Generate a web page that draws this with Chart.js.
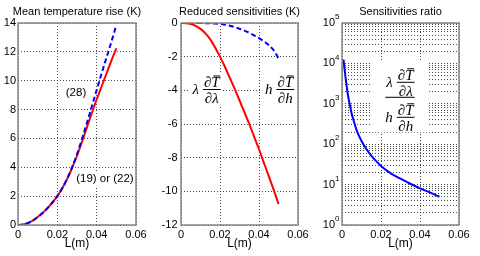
<!DOCTYPE html>
<html><head><meta charset="utf-8">
<script src="https://cdn.jsdelivr.net/npm/chart.js@4.4.1/dist/chart.umd.min.js"></script>
<style>
html,body{margin:0;padding:0;background:#fff}
#wrap{position:relative;width:480px;height:256px;overflow:hidden;background:#fff}
canvas{position:absolute;top:0}
</style></head><body>
<div id="wrap">
<canvas id="c1" width="160" height="256" style="left:0px"></canvas>
<canvas id="c2" width="160" height="256" style="left:160px"></canvas>
<canvas id="c3" width="160" height="256" style="left:320px"></canvas>
</div>
<script>
// ---------- data ----------
const lengths = [0,0.0025,0.005,0.0075,0.01,0.0125,0.015,0.0175,0.02,0.0225,0.025,0.0275,0.03,0.0325,0.035,0.0375,0.04,0.0425,0.045,0.0475,0.05];
const meanRiseEq28 = [0,0.03,0.13,0.3,0.55,0.83,1.17,1.56,2.0,2.55,3.2,4.0,4.9,5.95,7.05,8.2,9.35,10.5,11.6,12.7,13.85];
const meanRiseEq19 = [0,0.03,0.13,0.3,0.55,0.83,1.17,1.56,2.0,2.55,3.2,3.95,4.8,5.75,6.75,7.75,8.7,9.6,10.5,11.4,12.25];
const sensLambda = [0,-0.01,-0.06,-0.17,-0.35,-0.62,-0.97,-1.45,-2.0,-2.6,-3.25,-3.9,-4.6,-5.3,-6.0,-6.75,-7.5,-8.3,-9.1,-9.9,-10.75];
const sensH = [0,0,0,-0.002,-0.005,-0.01,-0.02,-0.035,-0.06,-0.1,-0.16,-0.24,-0.34,-0.45,-0.58,-0.73,-0.9,-1.09,-1.31,-1.62,-2.1];
const ratioLengths = [0.0008,0.001,0.0015,0.002,0.0025,0.003,0.004,0.005,0.006,0.0075,0.01,0.0125,0.015,0.0175,0.02,0.025,0.03,0.035,0.04,0.045,0.05];
const ratioValues = [12500,9800,6000,3800,2500,1700,950,560,380,220,120,76,52,38,29,19,14,10.5,8.1,6.4,5.0];

const xTicks = [0,0.02,0.04,0.06];
const xTickLabels = ['0','0.02','0.04','0.06'];
const riseTicks = [0,2,4,6,8,10,12,14];
const sensTicks = [0,-2,-4,-6,-8,-10,-12];
const ratioExponents = [0,1,2,3,4,5];
const titles = ['Mean temperature rise (K)','Reduced sensitivities (K)','Sensitivities ratio'];
const xLabel = 'L(m)';

// ---------- styling ----------
const SANS = '"Liberation Sans", Arial, Helvetica, sans-serif';
const SERIF = '"Liberation Serif", "Times New Roman", serif';
const GRID = {color:'rgba(30,30,30,0.8)', lineWidth:1, drawTicks:false};
const BORDER = {display:false, dash:[1,2]};
const RED = '#ff0000', BLUE = '#0000ff';

function pts(xs, ys){ return xs.map((x,i)=>({x:x, y:ys[i]})); }

function frame(title){
  return { id:'frame', afterDatasetsDraw(chart){
    const {ctx, chartArea:a} = chart;
    ctx.save();
    ctx.strokeStyle = '#858585'; ctx.lineWidth = 1.5;
    ctx.strokeRect(a.left, a.top, a.right-a.left, a.bottom-a.top);
    ctx.font = '11px '+SANS; ctx.fillStyle = '#000';
    ctx.textAlign = 'center'; ctx.textBaseline = 'middle';
    ctx.fillText(title, (a.left+a.right)/2, 12);
    ctx.restore();
  }};
}

function xScale(){
  return { type:'linear', min:0, max:0.06,
    afterBuildTicks: s => { s.ticks = xTicks.map(v=>({value:v})); },
    afterFit: s => { s.height = 31; },
    ticks:{ callback:(v,i)=>xTickLabels[i], font:{family:SANS,size:11}, color:'#000', padding:3, maxRotation:0, autoSkip:false },
    grid: GRID, border: BORDER,
    title:{display:true, text:xLabel, font:{family:SANS,size:12}, color:'#000', padding:{top:0,bottom:5.5}} };
}

function baseOptions(padR, yScale){
  return { responsive:false, animation:false, devicePixelRatio:1,
    layout:{padding:{top:23,right:padR,left:0,bottom:0}},
    plugins:{legend:{display:false}, tooltip:{enabled:false}, title:{display:false}},
    elements:{point:{radius:0}, line:{borderWidth:2, cubicInterpolationMode:'monotone', fill:false}},
    scales:{ x:xScale(), y:yScale } };
}

// fraction "prefix ∂T̄/∂den" with numerator centred at cx and bar at by
function drawSens(ctx, prefix, den, cx, by){
  ctx.font = 'italic 15px '+SERIF;
  ctx.fillStyle = '#000';
  ctx.textBaseline = 'alphabetic';
  ctx.textAlign = 'left';
  const wD = ctx.measureText('\u2202').width, wT = ctx.measureText('T').width;
  const wNum = wD + wT, wDen = ctx.measureText(den).width;
  const w = Math.max(wNum, wDen) + 2;
  const left = cx - w/2, right = cx + w/2;
  const nx = cx - wNum/2;
  ctx.fillText('\u2202', nx, by-2.5);
  ctx.fillText('T', nx+wD, by-2.5);
  ctx.fillRect(nx + wD + 2, by-14, wT - 1.5, 1);
  ctx.fillRect(left, by-0.5, w, 1);
  ctx.fillText(den, cx - wDen/2, by+13.5);
  ctx.textAlign = 'right';
  ctx.fillText(prefix, left - 4, by + 5);
  return {left: left - 4 - ctx.measureText(prefix).width, right: right};
}

// ---------- chart 1 ----------
const notes1 = [{text:'(28)', x:0.0295, y:9.18}, {text:'(19) or (22)', x:0.0442, y:3.19}];
new Chart(document.getElementById('c1'), {
  type:'line',
  data:{ datasets:[
    {label:'(28)', data:pts(lengths, meanRiseEq28), borderColor:BLUE, borderDash:[5,3]},
    {label:'(19) or (22)', data:pts(lengths, meanRiseEq19), borderColor:RED}
  ]},
  options: baseOptions(24, { type:'linear', min:0, max:14,
    afterBuildTicks: s => { s.ticks = riseTicks.map(v=>({value:v})); },
    afterFit: s => { s.width = 18; },
    ticks:{ callback:v=>String(v), font:{family:SANS,size:11}, color:'#000', padding:2 },
    grid:GRID, border:BORDER }),
  plugins:[frame(titles[0]), { id:'notes', beforeDatasetsDraw(chart){
    const {ctx, scales:{x, y}} = chart;
    ctx.save();
    ctx.font = '11.5px '+SANS; ctx.textAlign='center'; ctx.textBaseline='middle';
    notes1.forEach(n=>{
      const px = x.getPixelForValue(n.x), py = y.getPixelForValue(n.y);
      const w = ctx.measureText(n.text).width;
      ctx.fillStyle = '#fff'; ctx.fillRect(px-w/2-1, py-7, w+2, 14);
      ctx.fillStyle = '#000'; ctx.fillText(n.text, px, py);
    });
    ctx.restore();
  }}]
});

// ---------- chart 2 ----------
const eqs2 = [{prefix:'\u03bb', den:'\u2202\u03bb', x:0.0158, y:-3.95}, {prefix:'h', den:'\u2202h', x:0.0535, y:-3.95}];
new Chart(document.getElementById('c2'), {
  type:'line',
  data:{ datasets:[
    {label:'h dT/dh', data:pts(lengths, sensH), borderColor:BLUE, borderDash:[5,3]},
    {label:'lambda dT/dlambda', data:pts(lengths, sensLambda), borderColor:RED}
  ]},
  options: baseOptions(22, { type:'linear', min:-12, max:0,
    afterBuildTicks: s => { s.ticks = sensTicks.slice().reverse().map(v=>({value:v})); },
    afterFit: s => { s.width = 21; },
    ticks:{ callback:v=>String(v), font:{family:SANS,size:11}, color:'#000', padding:3.5 },
    grid:GRID, border:BORDER }),
  plugins:[frame(titles[1]), { id:'eqs', beforeDatasetsDraw(chart){
    const {ctx, scales:{x, y}} = chart;
    ctx.save();
    eqs2.forEach(e=>{
      const px = x.getPixelForValue(e.x), py = y.getPixelForValue(e.y);
      ctx.fillStyle = '#fff'; ctx.fillRect(px-23, py-16, 34, 32);
      drawSens(ctx, e.prefix, e.den, px, py);
    });
    ctx.restore();
  }}]
});

// ---------- chart 3 ----------
const ratioEq = {x:0.03266, y:1449};
const logTicks = [];
ratioExponents.forEach(e=>{ if (e < ratioExponents[ratioExponents.length-1]) { for (let m=1;m<=9;m++) logTicks.push(m*Math.pow(10,e)); } else logTicks.push(Math.pow(10,e)); });
new Chart(document.getElementById('c3'), {
  type:'line',
  data:{ datasets:[
    {label:'ratio', data:pts(ratioLengths, ratioValues), borderColor:BLUE}
  ]},
  options: baseOptions(21, { type:'logarithmic', min:1, max:1e5,
    afterBuildTicks: s => { s.ticks = logTicks.map(v=>({value:v})); },
    afterFit: s => { s.width = 22; },
    ticks:{ display:false },
    grid:GRID, border:BORDER }),
  plugins:[frame(titles[2]), { id:'ratioEq', beforeDatasetsDraw(chart){
    const {ctx, scales:{x, y}, chartArea:a} = chart;
    ctx.save();
    const px = x.getPixelForValue(ratioEq.x), py = y.getPixelForValue(ratioEq.y);
    ctx.fillStyle = '#fff'; ctx.fillRect(px-35, py-37, 58, 72);
    const t = drawSens(ctx, '\u03bb', '\u2202\u03bb', px, py-15);
    const b = drawSens(ctx, 'h', '\u2202h', px, py+20);
    const l = Math.min(t.left, b.left), r = Math.max(t.right, b.right);
    ctx.fillStyle = '#000'; ctx.fillRect(l, py-0.5, r-l, 1);
    // log tick labels 10^n
    ctx.textBaseline = 'middle';
    ratioExponents.forEach(e=>{
      const ty = y.getPixelForValue(Math.pow(10,e));
      ctx.font = '8px '+SANS; ctx.textAlign='left';
      const sw = ctx.measureText(String(e)).width;
      const ex = a.left - 2.5 - sw;
      ctx.fillStyle = '#000';
      ctx.fillText(String(e), ex, ty-6);
      ctx.font = '11px '+SANS; ctx.textAlign='right';
      ctx.fillText('10', ex, ty);
    });
    ctx.restore();
  }}]
});
</script>
</body></html>
